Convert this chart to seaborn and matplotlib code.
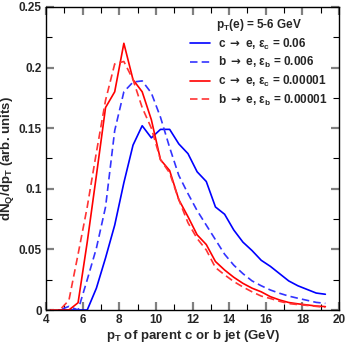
import numpy as np
import pandas as pd
import matplotlib
matplotlib.use("Agg")
import matplotlib.pyplot as plt
from matplotlib.ticker import MultipleLocator
import seaborn as sns

# -------------------------------
# Values
# -------------------------------
pt_jet = [4.25, 4.75, 5.25, 5.75, 6.25, 6.75, 7.25, 7.75, 8.25, 8.75,
          9.25, 9.75, 10.25, 10.75, 11.25, 11.75, 12.25, 12.75, 13.25, 13.75,
          14.25, 14.75, 15.25, 15.75, 16.25, 16.75, 17.25, 17.75, 18.25, 18.75,
          19.25]

c_eff_006 = [0, 0, 0, 0, 0, 0.018, 0.043, 0.070, 0.105, 0.136,
             0.152, 0.142, 0.149, 0.149, 0.137, 0.129, 0.114, 0.106, 0.085, 0.079,
             0.066, 0.056, 0.049, 0.041, 0.036, 0.030, 0.024, 0.020, 0.017, 0.014,
             0.013]

b_eff_0006 = [0, 0, 0.003, 0, 0.025, 0.051, 0.085, 0.148, 0.180, 0.188,
              0.189, 0.179, 0.159, 0.134, 0.111, 0.096, 0.082, 0.070, 0.058, 0.046,
              0.037, 0.030, 0.024, 0.020, 0.0165, 0.0138, 0.0115, 0.0097, 0.008, 0.0063,
              0.0055]

c_eff_00001 = [0, 0, 0, 0.006, 0.056, 0.111, 0.167, 0.180, 0.220, 0.190,
               0.180, 0.157, 0.124, 0.115, 0.091, 0.077, 0.062, 0.054, 0.040, 0.033,
               0.027, 0.022, 0.018, 0.015, 0.011, 0.0083, 0.0062, 0.0051, 0.0042, 0.0033,
               0.0028]

b_eff_00001 = [0, 0, 0.008, 0.046, 0.085, 0.130, 0.173, 0.203, 0.205, 0.190,
               0.167, 0.150, 0.124, 0.113, 0.091, 0.072, 0.059, 0.0495, 0.035, 0.029,
               0.0235, 0.019, 0.015, 0.0115, 0.0095, 0.0072, 0.0053, 0.0045, 0.0038, 0.003,
               0.0022]

labels = [r"c $\mathsf{\rightarrow}$ e, $\epsilon_c$ = 0.06",
          r"b $\mathsf{\rightarrow}$ e, $\epsilon_b$ = 0.006",
          r"c $\mathsf{\rightarrow}$ e, $\epsilon_c$ = 0.00001",
          r"b $\mathsf{\rightarrow}$ e, $\epsilon_b$ = 0.00001"]
series = [c_eff_006, b_eff_0006, c_eff_00001, b_eff_00001]
colors = ["#0000ff", "#3333ff", "#ff0000", "#ff3333"]
styles = ["-", "--", "-", "--"]

# -------------------------------
# Style
# -------------------------------
sns.set_style("ticks")
plt.rcParams["font.family"] = ["Liberation Sans", "DejaVu Sans"]
plt.rcParams["font.weight"] = "bold"
plt.rcParams["mathtext.fontset"] = "custom"
plt.rcParams["mathtext.rm"] = "Liberation Sans:bold"
plt.rcParams["mathtext.it"] = "Liberation Sans:bold"
plt.rcParams["mathtext.bf"] = "Liberation Sans:bold"
plt.rcParams["mathtext.sf"] = "DejaVu Sans"
plt.rcParams["mathtext.default"] = "bf"

fig = plt.figure(figsize=(3.46, 3.46), dpi=100)
ax = fig.add_axes([0.133, 0.104, 0.847, 0.876])

for lab, vals, col, ls in zip(labels, series, colors, styles):
    df = pd.DataFrame({"pt": pt_jet, "dN": vals})
    sns.lineplot(data=df, x="pt", y="dN", ax=ax, color=col, linestyle=ls,
                 linewidth=1.2, label=lab)

for line, ls in zip(ax.get_lines(), styles):
    if ls == "--":
        line.set_dashes([4.5, 2.5])

ax.set_xlim(4, 20)
ax.set_ylim(0, 0.25)
ax.xaxis.set_minor_locator(MultipleLocator(1))
ax.yaxis.set_minor_locator(MultipleLocator(0.025))
ax.set_xticks([4, 6, 8, 10, 12, 14, 16, 18, 20])
ax.set_xticklabels(["4", "6", "8", "10", "12", "14", "16", "18", "20"])
ax.set_yticks([0, 0.05, 0.1, 0.15, 0.2, 0.25])
ax.set_yticklabels(["0", "0.05", "0.1", "0.15", "0.2", "0.25"])

ax.tick_params(which="both", direction="in", top=True, right=True,
               labelsize=8.5, pad=3)
ax.tick_params(which="major", length=6, width=1.6, color="#808080")
ax.tick_params(which="minor", length=4, width=0.8, color="black")
for sp in ax.spines.values():
    sp.set_linewidth(1.0)
    sp.set_color("black")

ax.set_xlabel(r"p$_T$ of parent c or b jet (GeV)", fontsize=9.5,
              fontweight="bold", labelpad=1)
ax.set_ylabel(r"dN$_Q$/dp$_T$ (arb. units)", fontsize=9.5,
              fontweight="bold", labelpad=2)

leg = ax.legend(title=r"p$_T$(e) = 5-6 GeV", loc="upper right",
                bbox_to_anchor=(0.985, 0.99), frameon=False, fontsize=8.5,
                title_fontsize=8.5, handlelength=1.7, handletextpad=0.7,
                labelspacing=0.3, borderaxespad=0.2)
leg.get_title().set_fontweight("bold")
for t in leg.get_texts():
    t.set_fontweight("bold")

fig.savefig("out.png", dpi=100)
